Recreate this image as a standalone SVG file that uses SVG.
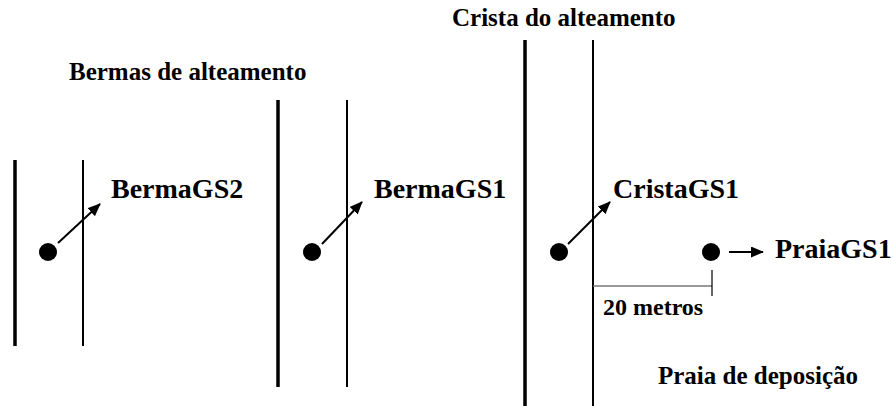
<svg xmlns="http://www.w3.org/2000/svg" width="893" height="406" viewBox="0 0 893 406">
<style>
text{font-family:"Liberation Serif","Times New Roman",serif;font-weight:bold;fill:#000}
.big{font-size:28px}
.mid{font-size:25px}
.sm{font-size:24px}
.thick{stroke:#000;stroke-width:3.5}
.thin{stroke:#000;stroke-width:2}
.arr{stroke:#000;stroke-width:2;fill:none;marker-end:url(#ah)}
</style>
<defs>
<marker id="ah" markerWidth="13" markerHeight="11" refX="12" refY="5.5" orient="auto" markerUnits="userSpaceOnUse" viewBox="0 0 13 11">
<path d="M0,0 L13,5.5 L0,11 z" fill="#000"/>
</marker>
</defs>
<rect width="893" height="406" fill="#fff"/>
<text class="mid" x="69" y="80">Bermas de alteamento</text>
<text class="mid" x="452" y="26">Crista do alteamento</text>
<text class="mid" x="658" y="384">Praia de deposição</text>
<g id="lines">
<line class="thick" x1="15" y1="160" x2="15" y2="346"/>
<line class="thin" x1="83" y1="160" x2="83" y2="346"/>
<line class="thick" x1="278" y1="100" x2="278" y2="387"/>
<line class="thin" x1="347" y1="100" x2="347" y2="387"/>
<line class="thick" x1="525" y1="40" x2="525" y2="406"/>
<line class="thin" x1="593" y1="40" x2="593" y2="406"/>
</g>
<g id="BermaGS2">
<circle cx="48" cy="252" r="9"/>
<text class="big" x="111" y="198">BermaGS2</text>
</g>
<g id="BermaGS1">
<circle cx="312" cy="252" r="9"/>
<text class="big" x="374" y="198">BermaGS1</text>
</g>
<g id="CristaGS1">
<circle cx="559" cy="252" r="9"/>
<text class="big" x="613" y="198">CristaGS1</text>
</g>
<g id="PraiaGS1">
<circle cx="711" cy="252" r="9"/>
<text class="big" x="775" y="258">PraiaGS1</text>
</g>
<g id="connectors">
<line class="arr" x1="58" y1="243" x2="100" y2="204"/>
<line class="arr" x1="322" y1="244" x2="362" y2="202"/>
<line class="arr" x1="568" y1="244" x2="610" y2="202"/>
<line class="arr" x1="729" y1="252" x2="763" y2="252"/>
</g>
<g id="scale">
<line x1="593" y1="286" x2="712" y2="286" stroke="#777" stroke-width="1.5"/>
<line x1="712" y1="270" x2="712" y2="296" stroke="#000" stroke-width="1.2"/>
<text class="sm" x="603" y="315">20 metros</text>
</g>
</svg>
